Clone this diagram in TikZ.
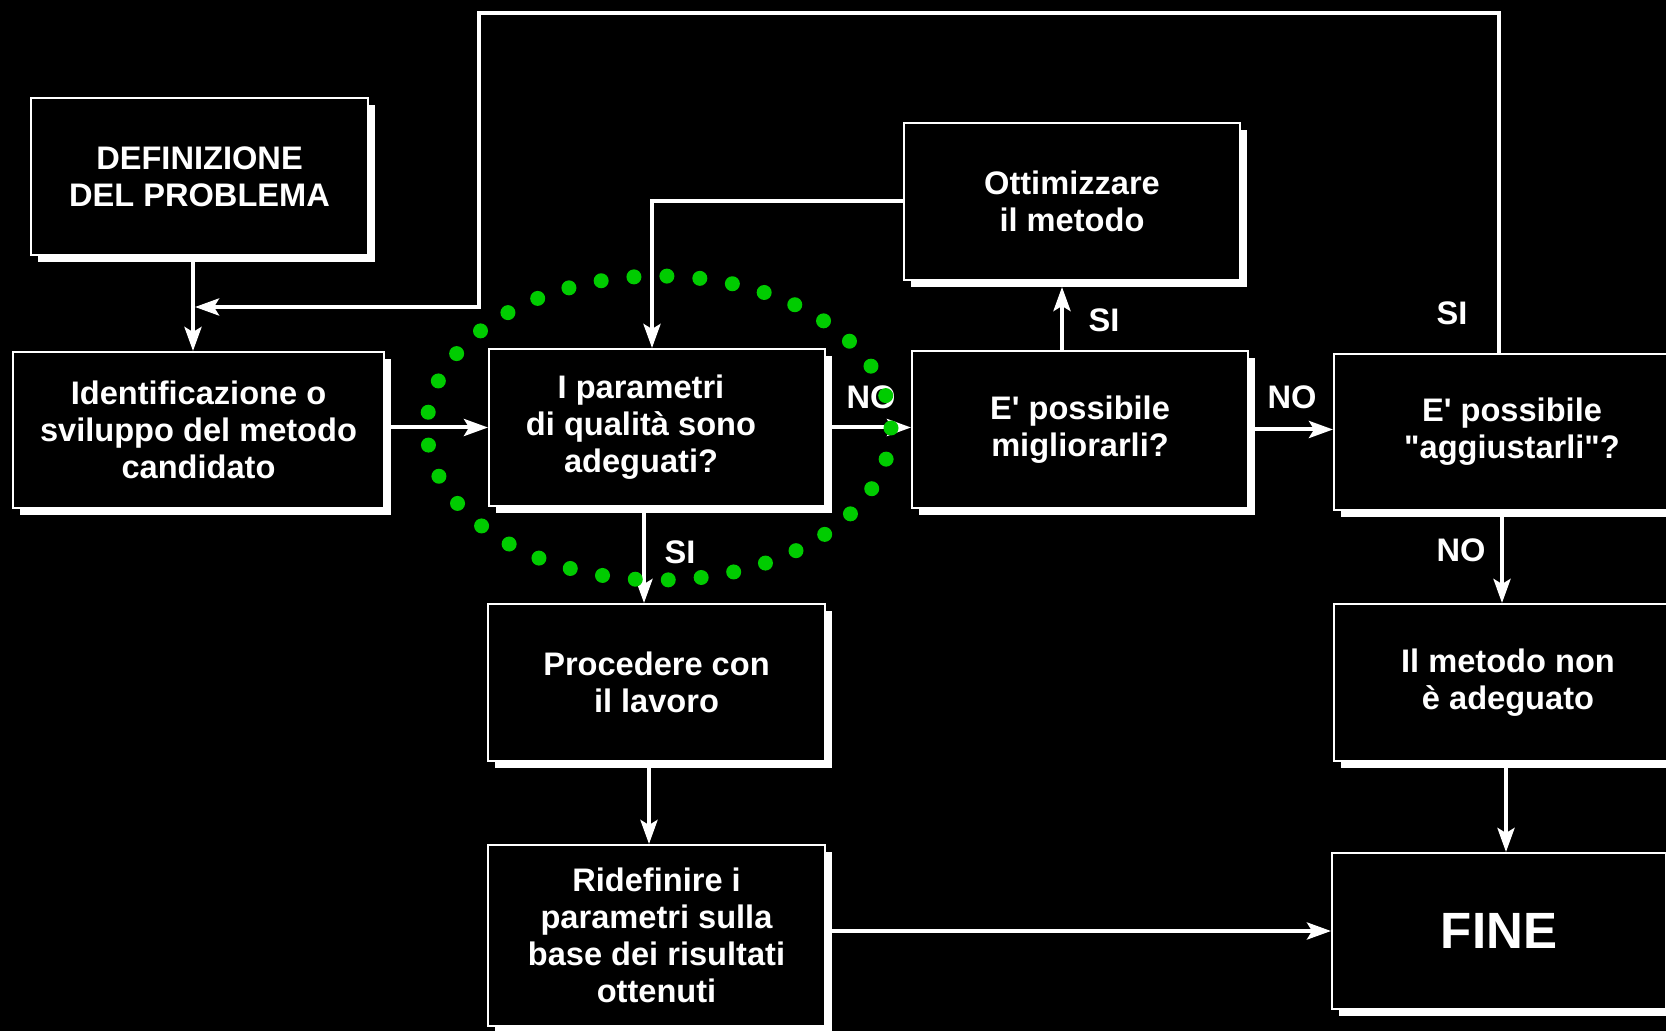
\documentclass[tikz,border=0pt]{standalone}
\usepackage{fontspec}
\newfontfamily\lsans{Liberation Sans}
\usetikzlibrary{arrows.meta,shadows}
\definecolor{dotgreen}{RGB}{0,204,0}
\newcommand\bxfont{\lsans\fontsize{16.3}{18.5}\selectfont\bfseries}
\newcommand\finefont{\lsans\fontsize{25.5}{30}\selectfont\bfseries}
\begin{document}
\begin{tikzpicture}[x=0.5pt,y=-0.5pt,
  box/.style={draw=white, line width=1pt, fill=black, text=white, align=center, font=\bxfont, inner sep=0pt, anchor=north west,
    drop shadow={shadow xshift=3.5pt, shadow yshift=-3.5pt, fill=white, opacity=1}},
  lbl/.style={text=white, font=\bxfont, inner sep=0pt},
  arr/.style={draw=white, line width=2pt, -{Stealth[length=12pt,width=8.5pt,inset=2.5pt]}}]
\fill[black] (0,0) rectangle (1666,1031);
\useasboundingbox (0,0) rectangle (1666,1031);

% boxes
\node[box, minimum width=168.5pt, minimum height=78.5pt] (def) at (30,97) {DEFINIZIONE\\DEL PROBLEMA};
\node[box, minimum width=185.5pt, minimum height=78pt] (ident) at (12,351) {Identificazione o\\sviluppo del metodo\\candidato};
\node[box, minimum width=168pt, minimum height=78.5pt] (param) at (488,348) {};
\node[lbl, align=center] (paramtxt) at (641,427) {I parametri\\di qualità sono\\adeguati?};
\node[box, minimum width=168pt, minimum height=78.5pt] (ottim) at (903,122) {Ottimizzare\\il metodo};
\node[box, minimum width=168pt, minimum height=78.5pt] (migl) at (911,350) {E' possibile\\migliorarli?};
\node[box, minimum width=178pt, minimum height=78pt] (aggiu) at (1333,353) {E' possibile\\"aggiustarli"?};
\node[box, minimum width=174pt, minimum height=78.5pt] (nonad) at (1333,603) {Il metodo non\\è adeguato};
\node[box, minimum width=168.5pt, minimum height=78.5pt] (proc) at (487,603) {Procedere con\\il lavoro};
\node[box, minimum width=168.5pt, minimum height=90.5pt] (ridef) at (487,844) {Ridefinire i\\parametri sulla\\base dei risultati\\ottenuti};
\node[box, minimum width=167pt, minimum height=78pt, font=\finefont] (fine) at (1331,852) {FINE};

% guide coordinates
\coordinate (gA) at (193,0);
\coordinate (gB) at (652,0);
\coordinate (gC) at (644,0);
\coordinate (gD) at (1062,287);
\coordinate (gE) at (1502,0);
\coordinate (gF) at (1506,0);
\coordinate (gG) at (649,0);
\coordinate (gH) at (1499,0);
\coordinate (loopTR) at (1499,13);
\coordinate (loopTL) at (479,13);
\coordinate (loopEnd) at (195,307);

% connectors
\draw[arr] (def.south -| gA) -- (ident.north -| gA);
\draw[arr] (aggiu.north -| gH) -- (loopTR) -- (loopTL) |- (loopEnd);
\draw[arr] (ident.east |- param.west) -- (param.west);
\draw[arr] (ottim.west) -| (param.north -| gB);
\draw[arr] (param.east) -- (migl.west |- param.east);
\draw[arr] (param.south -| gC) -- (proc.north -| gC);
\draw[arr] (migl.north -| gD) -- (gD);
\draw[arr] (migl.east) -- (aggiu.west |- migl.east);
\draw[arr] (aggiu.south -| gE) -- (nonad.north -| gE);
\draw[arr] (nonad.south -| gF) -- (fine.north -| gF);
\draw[arr] (proc.south -| gG) -- (ridef.north -| gG);
\draw[arr] (ridef.east |- fine.west) -- (fine.west);

% labels
\node[lbl] (noA) at (871,397) {NO};
\node[lbl] (siA) at (680,552) {SI};
\node[lbl] (siB) at (1104,320) {SI};
\node[lbl] (noB) at (1292,397) {NO};
\node[lbl] (siC) at (1452,313) {SI};
\node[lbl] (noC) at (1461,550) {NO};

% green dotted ellipse
\draw[dotgreen, line width=7.5pt, line cap=round, dash pattern=on 0pt off 16.5pt] (659,428) ellipse [x radius=116pt, y radius=76pt];
\end{tikzpicture}
\end{document}
